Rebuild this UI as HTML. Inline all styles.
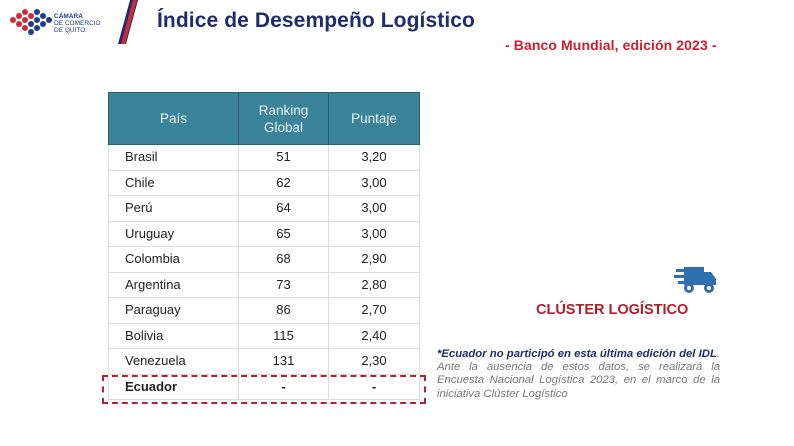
<!DOCTYPE html>
<html><head><meta charset="utf-8"><style>
body{margin:0;width:794px;height:446px;background:#fff;position:relative;overflow:hidden;font-family:"Liberation Sans",sans-serif}
.a{position:absolute}
table{position:absolute;left:108px;top:92px;border-collapse:collapse;font-size:13px;color:#222;table-layout:fixed;width:311px}
td{border:1px solid #ddd;height:24.5px;padding:0;line-height:24px}
th{background:#3a8399;color:#e8f4f8;font-weight:normal;font-size:13.5px;height:51px;border:1px solid #2a5f70;line-height:17px;padding:0}
td.n{text-align:center}
</style></head><body>
<svg class="a" style="left:8px;top:8px" width="46" height="28">
<g fill="#d02a3a"><circle cx="5" cy="12" r="3"/><circle cx="11" cy="8" r="3"/><circle cx="17" cy="4" r="3"/><circle cx="11" cy="16" r="3"/><circle cx="17" cy="12" r="3"/><circle cx="23" cy="8" r="3"/><circle cx="17" cy="20" r="3"/></g>
<g fill="#1f3f8a"><circle cx="29" cy="4" r="3"/><circle cx="29" cy="12" r="3"/><circle cx="35" cy="8" r="3"/><circle cx="23" cy="16" r="3"/><circle cx="29" cy="20" r="3"/><circle cx="35" cy="16" r="3"/><circle cx="23" cy="24" r="3"/><circle cx="41" cy="12" r="3"/></g>
</svg>
<div class="a" style="left:54px;top:13px;font-size:6.5px;color:#1f3f8a;line-height:7px"><b>CÁMARA</b><br>DE COMERCIO<br>DE QUITO</div>
<svg class="a" style="left:108px;top:0" width="34" height="45"><path d="M22 0 L30 0 L18 44 L10 44 Z" fill="#1f2d6b"/><path d="M25 0 L29 0 L17 44 L13 44 Z" fill="#d02a3a"/></svg>
<div class="a" style="left:157px;top:9px;font-size:21px;font-weight:bold;color:#1f2d6b;letter-spacing:0.1px">Índice de Desempeño Logístico</div>
<div class="a" style="left:505px;top:37px;font-size:14px;font-weight:bold;color:#c8202e;letter-spacing:0.1px">- Banco Mundial, edición 2023 -</div>
<table>
<colgroup><col style="width:130px"><col style="width:90px"><col style="width:91px"></colgroup>
<tr><th>País</th><th>Ranking<br>Global</th><th>Puntaje</th></tr>
<tr><td style="padding-left:16px">Brasil</td><td class="n">51</td><td class="n">3,20</td></tr>
<tr><td style="padding-left:16px">Chile</td><td class="n">62</td><td class="n">3,00</td></tr>
<tr><td style="padding-left:16px">Perú</td><td class="n">64</td><td class="n">3,00</td></tr>
<tr><td style="padding-left:16px">Uruguay</td><td class="n">65</td><td class="n">3,00</td></tr>
<tr><td style="padding-left:16px">Colombia</td><td class="n">68</td><td class="n">2,90</td></tr>
<tr><td style="padding-left:16px">Argentina</td><td class="n">73</td><td class="n">2,80</td></tr>
<tr><td style="padding-left:16px">Paraguay</td><td class="n">86</td><td class="n">2,70</td></tr>
<tr><td style="padding-left:16px">Bolivia</td><td class="n">115</td><td class="n">2,40</td></tr>
<tr><td style="padding-left:16px">Venezuela</td><td class="n">131</td><td class="n">2,30</td></tr>
<tr><td style="padding-left:16px;font-weight:bold">Ecuador</td><td class="n"><b>-</b></td><td class="n"><b>-</b></td></tr>
</table>
<div class="a" style="left:102px;top:375px;width:320px;height:25px;border:2px dashed #b8202e"></div>
<svg class="a" style="left:674px;top:263px" width="44" height="34">
<g fill="#2f6fae"><rect x="10" y="4" width="20" height="18"/><path d="M30 9 L37 9 L42 16 L42 22 L30 22 Z"/><rect x="2" y="6" width="14" height="3"/><rect x="0" y="12" width="12" height="3"/><rect x="4" y="18" width="10" height="3"/><circle cx="15" cy="25" r="5"/><circle cx="35" cy="25" r="5"/></g>
<circle cx="15" cy="25" r="2" fill="#fff"/><circle cx="35" cy="25" r="2" fill="#fff"/>
</svg>
<div class="a" style="left:536px;top:302px;font-size:14.5px;font-weight:bold;color:#b01e2b">CLÚSTER LOGÍSTICO</div>
<div class="a" style="left:437px;top:348px;width:283px;font-size:11.3px;line-height:13.2px;font-style:italic;color:#777;text-align:justify"><b style="color:#1f2d6b">*Ecuador no participó en esta última edición del IDL</b>. Ante la ausencia de estos datos, se realizará la Encuesta Nacional Logística 2023, en el marco de la iniciativa Clúster Logístico</div>
</body></html>
